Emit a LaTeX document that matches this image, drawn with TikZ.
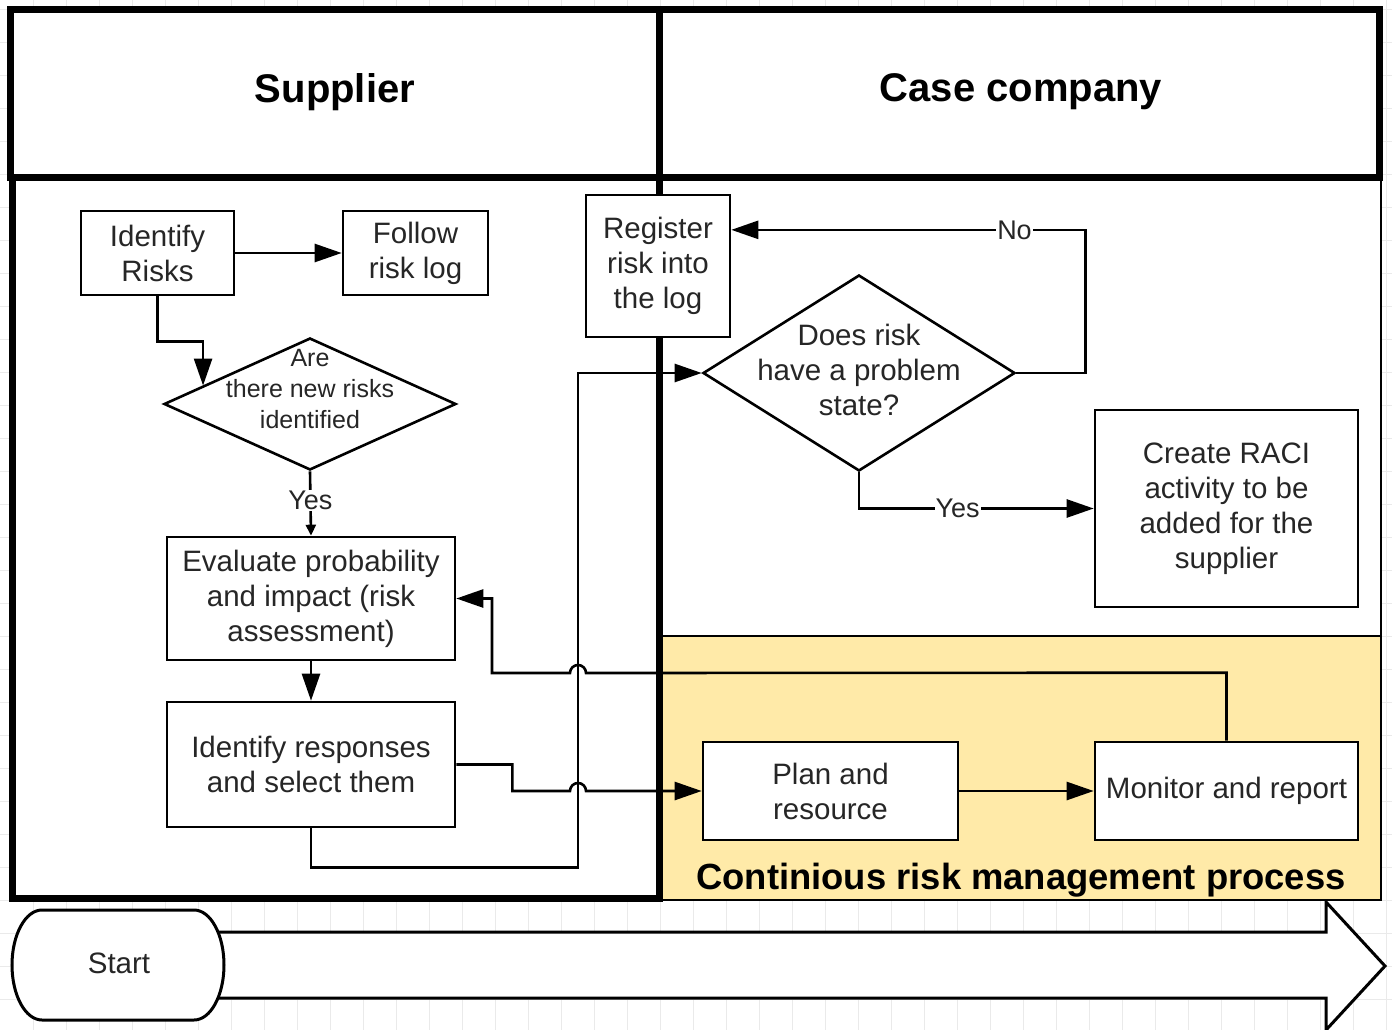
\documentclass[tikz,border=0pt]{standalone}
\usepackage{fontspec}
\setmainfont{Liberation Sans}
\usetikzlibrary{shapes.geometric,arrows.meta,calc}

\definecolor{laneyellow}{RGB}{255,234,168}
\definecolor{gridgray}{RGB}{234,234,234}
\definecolor{inktext}{RGB}{38,38,38}

\newcommand{\FBody}{\fontsize{29.5}{35}\selectfont}
\newcommand{\FDiam}{\fontsize{25}{31}\selectfont}
\newcommand{\FLab}{\fontsize{27}{30}\selectfont}
\newcommand{\FHead}{\fontsize{40}{44}\selectfont\bfseries}
\newcommand{\FTitle}{\fontsize{36.4}{40}\selectfont\bfseries}

\begin{document}
\begin{tikzpicture}[x=1pt,y=-1pt,
  thin line/.style={line width=2.6pt},
  thick line/.style={line width=7pt},
  box/.style={draw, thin line, fill=white, inner sep=0pt, align=center,
    text=inktext, font=\FBody},
  decision/.style={shape=diamond, draw, thin line, fill=white, inner sep=0pt},
  dtext/.style={align=center, text=inktext, inner sep=0pt},
  arr/.style={thin line, -{Triangle[length=27pt,width=18pt]}},
  smallarr/.style={thin line, -{Triangle[length=11pt,width=10pt]}},
  lab/.style={fill=white, inner sep=1pt, text=inktext, font=\FLab},
]
\useasboundingbox (0,0) rectangle (1392,1030);

% background grid
\foreach \k in {1,...,42} \draw[gridgray, line width=1pt] (33*\k,0) -- (33*\k,1030);
\foreach \k in {0,...,31} \draw[gridgray, line width=1pt] (0,9.5+33*\k) -- (1392,9.5+33*\k);

% timeline arrow and start terminator
\filldraw[fill=white, line width=3pt]
  (214,932) -- (1326,932) -- (1326,902) -- (1385,966) -- (1326,1030)
  -- (1326,998) -- (214,998) -- cycle;
\filldraw[fill=white, line width=3pt]
  (42,910) -- (194,910) arc[start angle=-90, end angle=90, x radius=30, y radius=55]
  -- (42,1020) arc[start angle=90, end angle=270, x radius=30, y radius=55] -- cycle;
\node[text=inktext, font=\FBody, minimum width=212, minimum height=110] (start) at (119,963) {Start};

% swimlanes
\fill[white] (10,10) rectangle (1381,900);
\filldraw[fill=laneyellow, thin line] (659,636) rectangle (1381,900);
\draw[thin line] (1381,177) -- (1381,900) -- (659,900);
\draw[thick line] (10,10) rectangle (1379,177);
\draw[thick line] (12,177) -- (12,898) -- (659,898) -- (659,10);
\node[font=\FHead] (supplier) at (335,92) {Supplier};
\node[font=\FHead] (casecomp) at (1021,92) {Case company};
\node[font=\FTitle] (crmp) at (1021,880) {Continious risk management process};

% supplier steps
\node[box, minimum width=153, minimum height=84] (idrisk) at (157.5,253) {Identify\\Risks};
\node[box, minimum width=145, minimum height=84] (follow) at (415.5,253) {Follow\\risk log};
\node[decision, minimum width=292, minimum height=132] (newrisk) at (310,404) {};
\node[dtext, font=\FDiam] (newrisk-t) at (310,389) {Are\\there new risks\\identified};
\node[box, minimum width=288, minimum height=123] (evaluate) at (311,598.5) {Evaluate probability\\and impact (risk\\assessment)};
\node[box, minimum width=288, minimum height=125] (idresp) at (311,764.5) {Identify responses\\and select them};

% case company steps
\node[box, minimum width=144, minimum height=142] (register) at (658,266) {Register\\risk into\\the log};
\node[decision, minimum width=312, minimum height=196] (doesrisk) at (859,373) {};
\node[dtext, font=\FBody] (doesrisk-t) at (859,370) {Does risk\\have a problem\\state?};
\node[box, minimum width=263, minimum height=197] (raci) at (1226.5,508.5) {Create RACI\\activity to be\\added for the\\supplier};
\node[box, minimum width=255, minimum height=98] (plan) at (830.5,791) {Plan and\\resource};
\node[box, minimum width=263, minimum height=98] (monitor) at (1226.5,791) {Monitor and report};

% connectors
\draw[arr] (idrisk) -- (follow);
\draw[arr] (idrisk.south) -- ++(0,45) -| ($(newrisk.west)!0.274!(newrisk.north)$);
\draw[smallarr] (newrisk.south) -- node[lab, pos=0.45] (yes1) {Yes} (evaluate.north);
\draw[arr] (evaluate) -- (idresp);
\draw[arr] (idresp.east) -- ++(56,0) |- (570,791)
  arc[start angle=180, end angle=360, radius=8] -- (plan.west);
\draw[arr] (idresp.south) -- ++(0,39) -| (578,373) -- (doesrisk.west);
\draw[arr] (doesrisk.east) -- ++(69,0) |- node[lab, pos=0.6] (no1) {No}
  ($(register.north east)!0.25!(register.south east)$);
\draw[arr] (doesrisk.south) |- node[lab, pos=0.71] (yes2) {Yes} (raci.west);
\draw[arr] (plan) -- (monitor);
\draw[arr] (monitor.north) -- ++(0,-68) -- (586,673)
  arc[start angle=0, end angle=-180, radius=8] -- (492,673) |- (evaluate.east);
\end{tikzpicture}
\end{document}
